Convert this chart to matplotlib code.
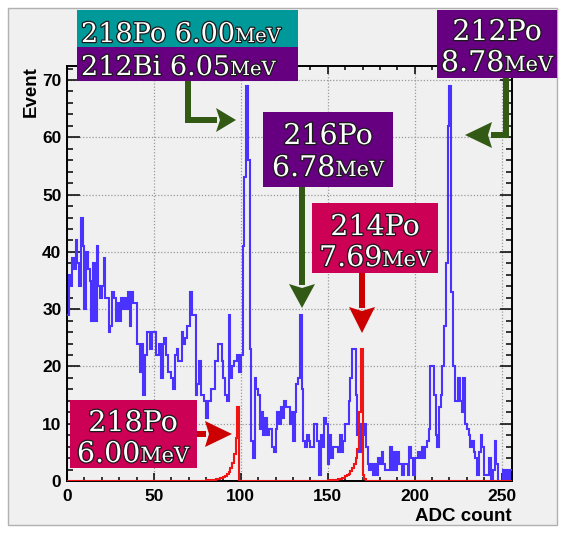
import matplotlib
matplotlib.use("Agg")
import matplotlib.pyplot as plt
import matplotlib.patheffects as pe
from matplotlib.patches import Rectangle, Polygon
from matplotlib.lines import Line2D
import numpy as np

# ---- data: measured spectrum (blue), 1 ADC count per bin, 0..255
blue_counts = [
    29, 36, 34, 39, 37, 42, 38, 34, 46, 41, 30, 40, 37, 35, 28, 38,
    28, 41, 34, 32, 34, 39, 32, 32, 26, 27, 33, 32, 28, 31, 28, 32,
    30, 32, 30, 33, 27, 33, 31, 31, 24, 24, 19, 24, 15, 22, 26, 26,
    23, 26, 26, 22, 22, 24, 18, 24, 25, 22, 19, 19, 18, 16, 22, 23,
    21, 21, 26, 24, 25, 27, 27, 33, 29, 29, 15, 17, 21, 15, 15, 14,
    11, 14, 14, 16, 16, 21, 21, 24, 24, 21, 18, 15, 14, 29, 18, 20,
    21, 21, 22, 19, 22, 41, 53, 69, 56, 23, 7, 4, 18, 16, 15, 9,
    12, 8, 11, 8, 9, 9, 6, 5, 9, 12, 10, 13, 11, 14, 13, 13,
    10, 12, 7, 12, 17, 18, 29, 16, 7, 6, 8, 7, 6, 6, 10, 10,
    7, 1, 8, 6, 11, 10, 3, 8, 4, 6, 6, 6, 5, 8, 5, 7,
    10, 10, 14, 18, 23, 23, 15, 8, 5, 10, 8, 10, 6, 3, 2, 3,
    1, 3, 1, 4, 3, 5, 3, 2, 2, 2, 6, 2, 5, 2, 5, 3,
    3, 1, 3, 3, 1, 6, 4, 1, 4, 4, 5, 4, 6, 4, 6, 7,
    9, 20, 20, 15, 8, 6, 13, 15, 20, 27, 38, 62, 69, 33, 20, 14,
    14, 18, 14, 12, 18, 10, 9, 8, 6, 7, 5, 4, 1, 5, 8, 6,
    1, 1, 1, 4, 0, 2, 7, 3, 0, 0, 0, 2, 0, 2, 0, 2,
]

# simulated 218Po / 214Po peaks (red), non-zero bins only
red_218_start = 80
red_218_vals = [0.1, 0.1, 0.15, 0.2, 0.2, 0.25, 0.3, 0.4, 0.5, 0.6,
                0.7, 0.9, 1.2, 1.6, 2.2, 3.2, 4.8, 7.5, 13.0]
red_214_start = 150
red_214_vals = [0.1, 0.1, 0.15, 0.2, 0.2, 0.25, 0.3, 0.4, 0.5, 0.6,
                0.8, 1.0, 1.3, 1.7, 2.3, 3.0, 4.0, 5.5, 12.0, 23.0, 1.0, 0.3]

x_ticks = [0, 50, 100, 150, 200, 250]
y_ticks = [0, 10, 20, 30, 40, 50, 60, 70]

W, H = 566, 534
TEAL = "#009999"
PURPLE = "#660080"
CRIMSON = "#cc0055"
GREEN = "#335a14"
RED = "#cc0000"
BG = "#f0f0f0"
SERIF = "DejaVu Serif"
SANS = "Liberation Sans"


def fy(y):
    return H - y


def box(fig, x0, y0, x1, y1, color):
    fig.patches.append(Rectangle((x0, fy(y1)), x1 - x0, y1 - y0,
                                 transform=None, facecolor=color,
                                 edgecolor="none", zorder=5))


def rich(fig, x, y, parts, align="center"):
    # parts: list of (text, size); drawn on one baseline
    r = fig.canvas.get_renderer()
    stroke = [pe.withStroke(linewidth=1.8, foreground="#1a1a1a")]
    items = []
    for s, size in parts:
        t = fig.text(0, 0, s, fontsize=size, family=SERIF, color="white",
                     ha="left", va="baseline",
                     transform=None, zorder=7, path_effects=stroke)
        items.append((t, t.get_window_extent(r).width))
    total = sum(w for _, w in items)
    cx = x - total / 2 if align == "center" else x
    for t, w in items:
        t.set_position((cx, fy(y)))
        cx += w


def arrow(fig, pts, color, head_len=24, head_w=26, lw=6):
    pts = np.array(pts, dtype=float)
    tip = pts[-1]
    prev = pts[-2]
    d = (tip - prev) / np.linalg.norm(tip - prev)
    base = tip - d * head_len
    shaft = np.vstack([pts[:-1], base + d * 1])
    fig.lines.append(Line2D(shaft[:, 0], H - shaft[:, 1], transform=None,
                            color=color, linewidth=lw * 0.72,
                            solid_joinstyle="miter", solid_capstyle="butt",
                            zorder=6))
    n = np.array([-d[1], d[0]])
    tri = np.array([tip, base + n * head_w / 2, base + d * 4, base - n * head_w / 2])
    tri[:, 1] = H - tri[:, 1]
    fig.patches.append(Polygon(tri, closed=True, transform=None,
                               facecolor=color, edgecolor="none", zorder=6))


def main():
    fig = plt.figure(figsize=(W / 100, H / 100), dpi=100, facecolor="white")
    fig.patches.append(Rectangle((8, fy(525)), 549, 517, transform=None,
                                 facecolor=BG, edgecolor="#b0b0b0",
                                 linewidth=1.0, zorder=-5))

    ax = fig.add_axes([67 / W, (H - 481) / H, (512 - 67) / W, (481 - 66) / H])
    ax.set_facecolor(BG)

    edges = np.arange(len(blue_counts) + 1)
    red = np.zeros(len(blue_counts))
    red[red_218_start:red_218_start + len(red_218_vals)] = red_218_vals
    red[red_214_start:red_214_start + len(red_214_vals)] = red_214_vals

    ax.stairs(blue_counts, edges, baseline=None, color="#4a32ff",
              linewidth=1.5, zorder=3)
    ax.stairs(red, edges, baseline=None, color="#f01414",
              linewidth=1.5, zorder=4)

    ax.set_xlim(0, 256)
    ax.set_ylim(0, max(blue_counts) * 1.05)
    ax.set_xticks(x_ticks)
    ax.set_xticks(np.arange(0, 257, 10), minor=True)
    ax.set_yticks(y_ticks)
    ax.set_yticks(np.arange(0, 73, 2), minor=True)
    ax.set_xticklabels([str(v) for v in x_ticks])
    ax.set_yticklabels([str(v) for v in y_ticks])
    for lab in ax.get_xticklabels() + ax.get_yticklabels():
        lab.set_fontfamily(SANS)
        lab.set_fontweight("bold")
        lab.set_fontsize(12.5)

    ax.grid(True, which="major", color="#9a9a9a", linestyle=(0, (1, 1.5)),
            linewidth=0.9)
    ax.set_axisbelow(True)
    for s in ax.spines.values():
        s.set_linewidth(1.4)
        s.set_color("black")
    ax.tick_params(axis="both", which="both", direction="in",
                   top=True, right=True, width=1.1, color="black")
    ax.tick_params(axis="x", which="major", length=6, pad=6)
    ax.tick_params(axis="x", which="minor", length=3)
    ax.tick_params(axis="y", which="major", length=9, pad=4)
    ax.tick_params(axis="y", which="minor", length=4.5)

    ax.text(-0.081, 1.0, "Event", transform=ax.transAxes, rotation=90,
            ha="center", va="top", family=SANS, fontweight="bold",
            fontsize=13.5)
    ax.text(1.0, -0.096, "ADC count", transform=ax.transAxes, ha="right",
            va="baseline", family=SANS, fontweight="bold", fontsize=13.5)

    # annotation boxes
    box(fig, 77, 10, 298, 47, TEAL)
    box(fig, 77, 47, 298, 81, PURPLE)
    box(fig, 437, 10, 557, 78, PURPLE)
    box(fig, 263, 112, 393, 187, PURPLE)
    box(fig, 312, 203, 438, 273, CRIMSON)
    box(fig, 70, 400, 197, 468, CRIMSON)

    rich(fig, 81, 42, [("218Po 6.00", 19.5), ("MeV", 14)], align="left")
    rich(fig, 81, 75, [("212Bi 6.05", 19.5), ("MeV", 14)], align="left")
    rich(fig, 497, 40, [("212Po", 20.5)])
    rich(fig, 497, 71, [("8.78", 20.5), ("MeV", 15)])
    rich(fig, 328, 144, [("216Po", 20.5)])
    rich(fig, 328, 176, [("6.78", 20.5), ("MeV", 15)])
    rich(fig, 375, 235, [("214Po", 20.5)])
    rich(fig, 375, 266, [("7.69", 20.5), ("MeV", 15)])
    rich(fig, 133, 431, [("218Po", 20.5)])
    rich(fig, 133, 462, [("6.00", 20.5), ("MeV", 15)])

    # arrows
    arrow(fig, [(188, 81), (188, 120), (236, 120)], GREEN, head_len=20, head_w=24)
    arrow(fig, [(302, 187), (302, 308)], GREEN)
    arrow(fig, [(506, 78), (506, 135), (465, 135)], GREEN, head_len=27)
    arrow(fig, [(362, 273), (362, 333)], RED, head_len=26)
    arrow(fig, [(197, 434), (232, 434)], RED, head_len=27)

    fig.savefig("out.png", dpi=100, facecolor="white")


if __name__ == "__main__":
    main()
